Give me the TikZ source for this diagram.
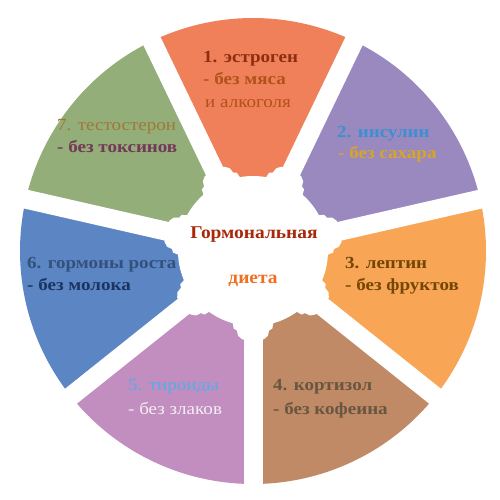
\documentclass[tikz,border=0pt]{standalone}
\usepackage{fontspec}
\setmainfont{Liberation Serif}
\newfontfamily\segfont{Liberation Serif}[FakeStretch=1.12]
\newfontfamily\ctrfont{Liberation Serif}[FakeStretch=1.08]
\begin{document}
\begin{tikzpicture}[x=1pt,y=1pt]
\definecolor{c1}{HTML}{F0805A}
\definecolor{c2}{HTML}{9A89BF}
\definecolor{c3}{HTML}{F8A656}
\definecolor{c4}{HTML}{C08A66}
\definecolor{c5}{HTML}{C28DBF}
\definecolor{c6}{HTML}{5B86C3}
\definecolor{c7}{HTML}{93AE79}
\definecolor{t1a}{HTML}{8E2E0E}
\definecolor{t1b}{HTML}{B0521A}
\definecolor{t2a}{HTML}{3E8FD2}
\definecolor{t2b}{HTML}{D6A52A}
\definecolor{t3}{HTML}{744604}
\definecolor{t4}{HTML}{675740}
\definecolor{t5a}{HTML}{55ADEA}
\definecolor{t5b}{HTML}{F4EEF4}
\definecolor{t6a}{HTML}{34507C}
\definecolor{t6b}{HTML}{1C3462}
\definecolor{t7a}{HTML}{A07838}
\definecolor{t7b}{HTML}{743858}
\definecolor{cta}{HTML}{A8280A}
\definecolor{ctb}{HTML}{F07020}
\tikzset{
  lblb/.style={anchor=base west, inner sep=0pt, font=\segfont\fontsize{17}{20}\selectfont\bfseries},
  lbln/.style={anchor=base west, inner sep=0pt, font=\segfont\fontsize{17}{20}\selectfont},
  ctr/.style={anchor=base, inner sep=0pt, font=\ctrfont\fontsize{18}{21}\selectfont\bfseries},
  gapline/.style={white, line width=19pt},
}
\useasboundingbox (0,0) rectangle (500,499);
\fill[white] (0,0) rectangle (500,499);
\begin{scope}[shift={(253,248)}]
  \foreach \i/\col in {1/c1,2/c2,3/c3,4/c4,5/c5,6/c6,7/c7}{
    \pgfmathsetmacro\s{90-(\i-1)*360/7-360/14}
    \pgfmathsetmacro\e{90-(\i-1)*360/7+360/14}
    \fill[\col] (0,0) -- (\s:233) arc[start angle=\s, end angle=\e, radius=233] -- cycle;
  }
  \foreach \k in {0,...,6}{
    \pgfmathsetmacro\b{90+360/14-\k*360/7}
    \draw[gapline] (0,0) -- (\b:250);
    \fill[white] (0,0) -- (\b-16:74) -- (\b-14:80) -- (\b-11.5:81) -- (\b-10:86) -- (\b-7:89)
      -- (\b:90) -- (\b+7:89) -- (\b+10:86) -- (\b+11.5:81) -- (\b+14:80) -- (\b+16:74) -- cycle;
  }
  \fill[white] (0,0) circle[radius=75];
\end{scope}
% segment texts
\node[lblb, text=t1a] (s1a) at (203,436) {1. эстроген};
\node[lblb, text=t1b] (s1b) at (203,414) {- без мяса};
\node[lbln, text=t1b] (s1c) at (205,391) {и алкоголя};
\node[lblb, text=t2a] (s2a) at (337,362) {2. инсулин};
\node[lblb, text=t2b] (s2b) at (338,341) {- без сахара};
\node[lblb, text=t3] (s3a) at (345,231) {3. лептин};
\node[lblb, text=t3] (s3b) at (345,209) {- без фруктов};
\node[lblb, text=t4] (s4a) at (273,109) {4. кортизол};
\node[lblb, text=t4] (s4b) at (273,85) {- без кофеина};
\node[lbln, text=t5a] (s5a) at (128,109) {5. тироиды};
\node[lbln, text=t5b] (s5b) at (128,85) {- без злаков};
\node[lblb, text=t6a] (s6a) at (27,231) {6. гормоны роста};
\node[lblb, text=t6b] (s6b) at (27,209) {- без молока};
\node[lbln, text=t7a] (s7a) at (57,369) {7. тестостерон};
\node[lblb, text=t7b] (s7b) at (57,347) {- без токсинов};
% centre
\node[ctr, text=cta] (ca) at (254,261) {Гормональная};
\node[ctr, text=ctb] (cb) at (253,216) {диета};
\end{tikzpicture}
\end{document}
